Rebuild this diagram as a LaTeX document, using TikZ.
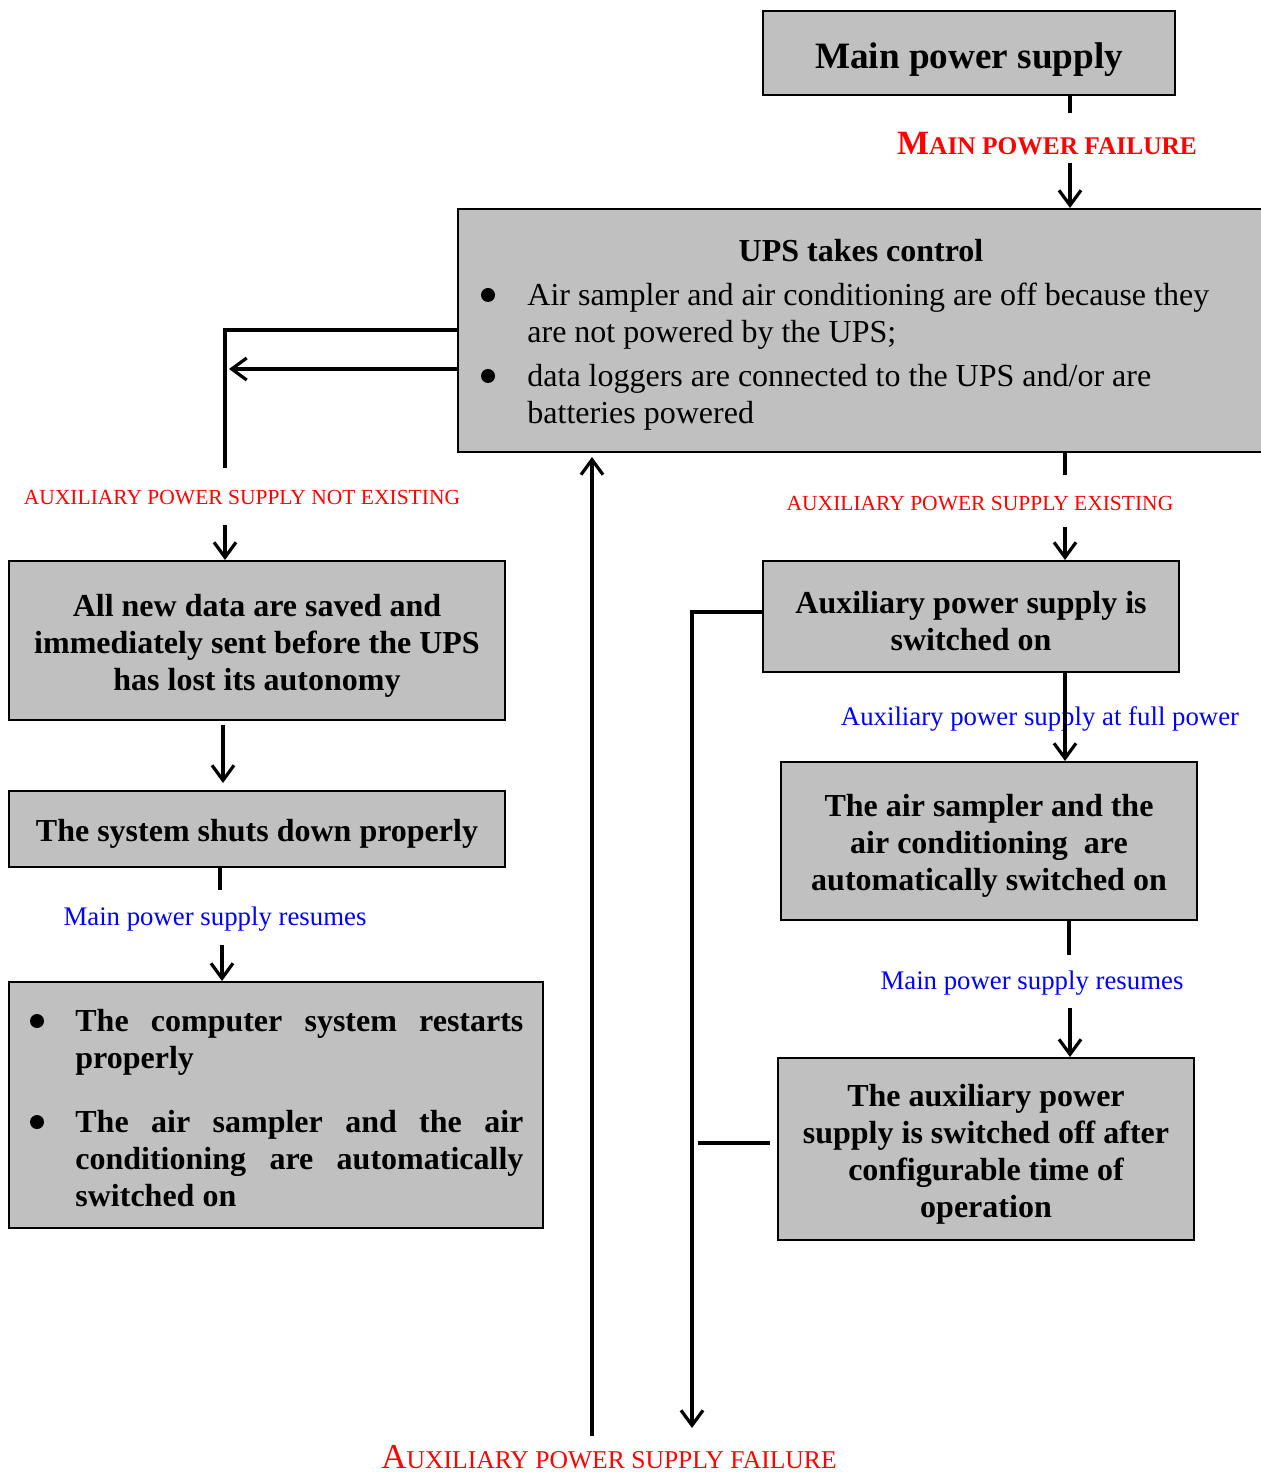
\documentclass[tikz,border=0pt]{standalone}
\usepackage{fontspec}
\setmainfont{Liberation Serif}
\usetikzlibrary{arrows.meta,calc}
\lefthyphenmin=64
\definecolor{boxgray}{RGB}{192,192,192}
\definecolor{lblred}{RGB}{255,0,0}
\definecolor{lblblue}{RGB}{0,0,255}
% set a box line slightly below its natural place, keeping its spacing
\newcommand{\lowr}[1]{\raisebox{-2.5pt}[\height][\depth]{#1}}

\begin{document}
\begin{tikzpicture}[x=0.5pt,y=-0.5pt,
  box/.style={draw=black, line width=1pt, fill=boxgray, inner sep=0pt,
    align=center, font=\bfseries\fontsize{16}{18.5}\selectfont},
  conn/.style={line width=1.8pt},
  arr/.style={conn, -{Straight Barb[length=7.5pt,width=11pt,line width=1.6pt]}},
  redcaps/.style={text=lblred, inner sep=0pt, font=\fontsize{10.75}{12}\selectfont},
  bluelbl/.style={text=lblblue, inner sep=0pt, font=\fontsize{13.4}{15}\selectfont},
  body/.style={inner sep=0pt, anchor=base west, font=\fontsize{16}{18.5}\selectfont},
  dot/.style={circle, fill=black, inner sep=0pt, minimum size=7pt},
]
\useasboundingbox (0,0) rectangle (1260,1475);

% ---- boxes ----
\node[box, minimum width=206pt, minimum height=42pt,
      font=\bfseries\fontsize{18.6}{22}\selectfont] (main) at (969,53)
  {\raisebox{-3.5pt}[\height][\depth]{Main power supply}};
\node[box, minimum width=403pt, minimum height=121.5pt] (ups) at (861,330.5) {};
\node[box, minimum width=248pt, minimum height=79.5pt] (newdata) at (257,640.5)
  {\lowr{All new data are saved and}\\\lowr{immediately sent before the UPS}\\\lowr{has lost its autonomy}};
\node[box, minimum width=248pt, minimum height=38pt] (shut) at (257,829)
  {\lowr{The system shuts down properly}};
\node[box, minimum width=267pt, minimum height=123pt] (restart) at (276,1105) {};
\node[box, minimum width=208pt, minimum height=55.5pt] (auxon) at (971,616.5)
  {\lowr{Auxiliary power supply is}\\\lowr{switched on}};
\node[box, minimum width=208pt, minimum height=79pt] (airon) at (989,841)
  {\lowr{The air sampler and the}\\\lowr{air conditioning\ \ are}\\\lowr{automatically switched on}};
\node[box, minimum width=208pt, minimum height=91pt] (auxoff) at (986,1149)
  {\lowr{The auxiliary power}\\\lowr{supply is switched off after}\\\lowr{configurable time of}\\\lowr{operation}};

% ---- UPS box contents ----
\node[inner sep=0pt, font=\bfseries\fontsize{16}{18.5}\selectfont] (upstitle) at (861,251) {UPS takes control};
\node[dot] (upsb1) at (488,295) {};
\node[dot] (upsb2) at (488,376) {};
\node[body] (upsl1) at (527,306) {Air sampler and air conditioning are off because they};
\node[body] (upsl2) at (527,343) {are not powered by the UPS;};
\node[body] (upsl3) at (527,387) {data loggers are connected to the UPS and/or are};
\node[body] (upsl4) at (527,424) {batteries powered};

% ---- restart box contents ----
\node[dot] (rb1) at (37,1021) {};
\node[dot] (rb2) at (37,1122) {};
\node[body, text width=224pt, align=justify, font=\bfseries\fontsize{16}{18.5}\selectfont]
  (rt1) at (75,1031) {The computer system restarts\linebreak properly};
\node[body, text width=224pt, align=justify, font=\bfseries\fontsize{16}{18.5}\selectfont]
  (rt2) at (75,1132) {The air sampler and the air\linebreak conditioning are automatically\linebreak switched on};

% ---- labels ----
\node[text=lblred, inner sep=0pt, font=\bfseries\fontsize{12.7}{14}\selectfont] (lmpf) at (1047,144)
  {{\fontsize{17}{19}\selectfont M}AIN POWER FAILURE};
\node[redcaps] (lnx) at (242,498) {AUXILIARY POWER SUPPLY NOT EXISTING};
\node[redcaps] (lex) at (980,504) {AUXILIARY POWER SUPPLY EXISTING};
\node[bluelbl] (lres1) at (215,919) {Main power supply resumes};
\node[bluelbl] (lres2) at (1032,983) {Main power supply resumes};
\node[bluelbl] (lfull) at (1040,719) {Auxiliary power supply at full power};
\node[text=lblred, inner sep=0pt, font=\fontsize{12.8}{14}\selectfont] (lauxf) at (609,1457)
  {{\fontsize{17.5}{19}\selectfont A}UXILIARY POWER SUPPLY FAILURE};

% ---- helper points ----
\coordinate (xmain) at (1070,0);
\coordinate (mstub) at (1070,113);
\coordinate (marr) at (1070,163);
\coordinate (ybr) at (0,330);
\coordinate (yar) at (0,369);
\coordinate (nxend) at (225,468);
\coordinate (nxtip) at (229,369);
\coordinate (nxarr) at (225,525);
\coordinate (ndarr) at (223,725);
\coordinate (ndtip) at (223,783);
\coordinate (shstub) at (220,890);
\coordinate (xsh) at (220,0);
\coordinate (rsarr) at (222,945);
\coordinate (xrs) at (222,0);
\coordinate (upfrom) at (592,1436);
\coordinate (xex) at (1065,0);
\coordinate (exstub) at (1065,475);
\coordinate (exarr) at (1065,527);
\coordinate (yaux) at (0,612);
\coordinate (auxend) at (692,1428);
\coordinate (xair) at (1069,0);
\coordinate (airstub) at (1069,955);
\coordinate (offarr) at (1070,1008);
\coordinate (xoff) at (1070,0);
\coordinate (dashA) at (698,1143);
\coordinate (dashB) at (770,1143);

% ---- connectors ----
\draw[conn] (main.south -| xmain) -- (mstub);
\draw[arr] (marr) -- (ups.north -| xmain);

\draw[conn] (ups.west |- ybr) -| (nxend);
\draw[arr] (ups.west |- yar) -- (nxtip);
\draw[arr] (nxarr) -- (newdata.north -| nxarr);
\draw[arr] (ndarr) -- (ndtip);
\draw[conn] (shut.south -| xsh) -- (shstub);
\draw[arr] (rsarr) -- (restart.north -| xrs);

\draw[arr] (upfrom) -- ($(ups.south -| upfrom)+(0,4)$);

\draw[conn] (ups.south -| xex) -- (exstub);
\draw[arr] (exarr) -- (auxon.north -| xex);
\draw[arr] (auxon.south -| xex) -- (airon.north -| xex);
\draw[arr] (auxon.west |- yaux) -| (auxend);
\draw[conn] (airon.south -| xair) -- (airstub);
\draw[arr] (offarr) -- (auxoff.north -| xoff);
\draw[conn] (dashA) -- (dashB);
\end{tikzpicture}
\end{document}
